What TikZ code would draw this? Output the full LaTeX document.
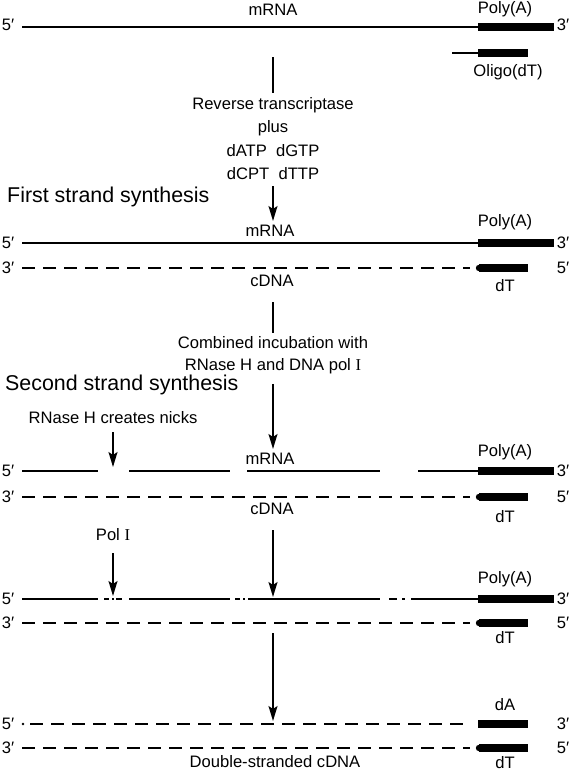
\documentclass[tikz,border=0pt]{standalone}
\usepackage{fontspec}
\setmainfont{Liberation Sans}
\newfontfamily\serifI{Liberation Serif}
\usetikzlibrary{arrows.meta}
\begin{document}
\begin{tikzpicture}[x=1pt,y=-1pt,
  lbl/.style={font=\fontsize{16.6}{19}\selectfont, inner sep=0pt},
  head/.style={font=\fontsize{21.4}{25}\selectfont, inner sep=0pt, anchor=west},
  strand/.style={line width=2.4pt},
  dstrand/.style={line width=2.4pt, dash pattern=on 13pt off 8pt},
  barfill/.style={fill=black},
  conn/.style={line width=1.7pt},
  arr/.style={conn, -{Stealth[length=15pt,width=9pt,inset=3pt]}}]
\useasboundingbox (0,0) rectangle (571,772);

% ---------------- Row 1 ----------------
\node[lbl] (r1five) at (8,25) {5′};
\node[lbl] (r1three) at (563,25) {3′};
\node[lbl] (r1mrna) at (273,10) {mRNA};
\node[lbl] (r1poly) at (505,9) {Poly(A)};
\draw[strand] (22,27) -- (478,27);
\fill[barfill] (478,23) rectangle (554,31);
% oligo(dT)
\draw[strand] (452,53) -- (478,53);
\fill[barfill] (478,49) rectangle (528,57);
\node[lbl] (oligo) at (508,72) {Oligo(dT)};

% reagents
\coordinate (c1top) at (273,57);
\node[lbl] (rt) at (273,105) {Reverse transcriptase};
\node[lbl] (plus) at (273,128) {plus};
\node[lbl] (datp) at (273,151) {dATP\ \ dGTP};
\node[lbl] (dcpt) at (273,174) {dCPT\ \ dTTP};
\draw[conn] (c1top) -- (rt.north |- 0,93);
\coordinate (r2hit) at (273,221);
\draw[arr] (dcpt.south) ++(0,6) -- (r2hit);

\node[head] (first) at (7,197) {First strand synthesis};

% ---------------- Row 2 ----------------
\node[lbl] (r2poly) at (505,222) {Poly(A)};
\node[lbl] (r2mrna) at (270,231) {mRNA};
\node[lbl] (r2five) at (8,243) {5′};
\node[lbl] (r2three) at (563,243) {3′};
\draw[strand] (22,243) -- (478,243);
\fill[barfill] (478,239) rectangle (554,247);
\node[lbl] (r2threeL) at (8,268) {3′};
\node[lbl] (r2fiveR) at (563,268) {5′};
\draw[dstrand] (22,268) -- (470,268);
\fill[barfill] (479,264) rectangle (528,272);
\fill (479,268) circle (3.2);
\node[lbl] (r2cdna) at (272,281) {cDNA};
\node[lbl] (r2dt) at (505,286) {dT};

\coordinate (c2top) at (273,302);
\node[lbl] (comb) at (273,343) {Combined incubation with};
\node[lbl] (rnh) at (273,366) {RNase H and DNA pol {\serifI I}};
\draw[conn] (c2top) -- (273,333);
\coordinate (r3hit) at (273,449);
\draw[arr] (rnh.south) ++(0,10) -- (r3hit);

\node[head] (second) at (5,385) {Second strand synthesis};
\node[lbl] (nicks) at (113,418) {RNase H creates nicks};
\coordinate (nickhit) at (113,467);
\draw[arr] (nicks.south) ++(0,8) -- (nickhit);

% ---------------- Row 3 ----------------
\node[lbl] (r3poly) at (505,452) {Poly(A)};
\node[lbl] (r3mrna) at (270,459) {mRNA};
\node[lbl] (r3five) at (8,471) {5′};
\node[lbl] (r3three) at (563,471) {3′};
\draw[strand] (22,471) -- (98,471);
\draw[strand] (129,471) -- (230,471);
\draw[strand] (247,471) -- (380,471);
\draw[strand] (418,471) -- (478,471);
\fill[barfill] (478,467) rectangle (554,475);
\node[lbl] (r3threeL) at (8,497) {3′};
\node[lbl] (r3fiveR) at (563,497) {5′};
\draw[dstrand] (22,497) -- (470,497);
\fill[barfill] (479,493) rectangle (528,501);
\fill (479,497) circle (3.2);
\node[lbl] (r3cdna) at (272,509) {cDNA};
\node[lbl] (r3dt) at (505,517) {dT};

\coordinate (c3top) at (273,530);
\coordinate (r4hit) at (273,597);
\draw[arr] (c3top) -- (r4hit);
\node[lbl] (poli) at (113,535) {Pol {\serifI I}};
\coordinate (polhit) at (113,596);
\draw[arr] (poli.south) ++(0,12) -- (polhit);

% ---------------- Row 4 ----------------
\node[lbl] (r4poly) at (505,579) {Poly(A)};
\node[lbl] (r4five) at (8,599) {5′};
\node[lbl] (r4three) at (563,599) {3′};
\draw[strand] (22,599) -- (98,599);
\draw[strand] (104,599) -- (109,599);
\draw[strand] (112,599) -- (114,599);
\draw[strand] (116,599) -- (122,599);
\draw[strand] (129,599) -- (230,599);
\draw[strand] (235,599) -- (240,599);
\draw[strand] (243,599) -- (245,599);
\draw[strand] (248,599) -- (380,599);
\draw[strand] (389,599) -- (397,599);
\draw[strand] (402,599) -- (405,599);
\draw[strand] (411,599) -- (478,599);
\fill[barfill] (478,595) rectangle (554,603);
\node[lbl] (r4threeL) at (8,623) {3′};
\node[lbl] (r4fiveR) at (563,623) {5′};
\draw[dstrand] (22,623) -- (470,623);
\fill[barfill] (479,619) rectangle (528,627);
\fill (479,623) circle (3.2);
\node[lbl] (r4dt) at (505,638) {dT};

\coordinate (c4top) at (273,633);
\coordinate (r5hit) at (273,721);
\draw[arr] (c4top) -- (r5hit);

% ---------------- Row 5/6 ----------------
\node[lbl] (r5da) at (505,705) {dA};
\node[lbl] (r5five) at (8,724) {5′};
\node[lbl] (r5three) at (563,724) {3′};
\fill (23,724) circle (1.4);
\draw[dstrand] (30,724) -- (470,724);
\fill[barfill] (478,720) rectangle (528,728);
\node[lbl] (r6threeL) at (8,748) {3′};
\node[lbl] (r6fiveR) at (563,748) {5′};
\draw[dstrand] (22,748) -- (470,748);
\fill[barfill] (479,744) rectangle (528,752);
\fill (479,748) circle (3.2);
\node[lbl] (ds) at (275,762) {Double-stranded cDNA};
\node[lbl] (r6dt) at (505,763) {dT};
\end{tikzpicture}
\end{document}
